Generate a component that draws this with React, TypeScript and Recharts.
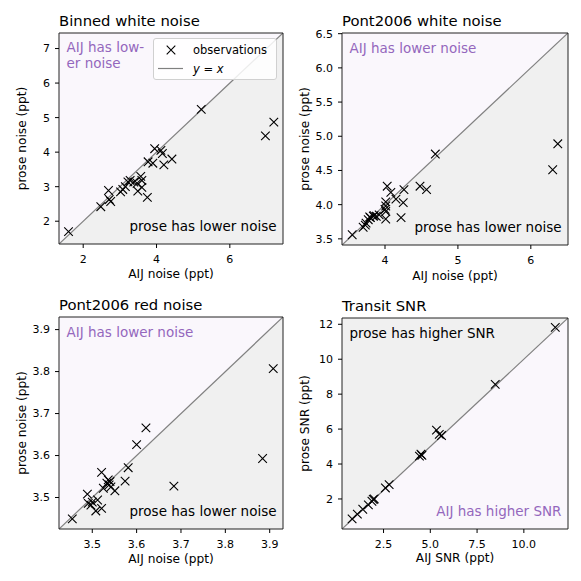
import React from 'react';
import {
  ComposedChart,
  XAxis,
  YAxis,
  CartesianGrid,
  Area,
  Scatter,
  ReferenceArea,
  Legend,
} from 'recharts';

const FONT = '"DejaVu Sans", Verdana, sans-serif';
const PURPLE = '#9467bd';
const GREY_FILL = '#f0f0f0';
const LAVENDER_FILL = '#faf7fc';

// Binned white noise (ppt)
const binnedAij = [1.6, 2.48, 2.69, 2.71, 2.75, 3.02, 3.08, 3.15, 3.22, 3.28, 3.38, 3.49, 3.47, 3.57, 3.6, 3.6, 3.75, 3.77, 3.9, 3.95, 4.12, 4.16, 4.2, 4.42, 5.22, 6.97, 7.2];
const binnedProse = [1.7, 2.42, 2.89, 2.63, 2.57, 2.85, 2.92, 3.0, 3.14, 3.18, 3.13, 2.87, 3.1, 3.3, 3.18, 2.98, 2.69, 3.72, 3.68, 4.1, 4.05, 3.96, 3.63, 3.8, 5.24, 4.47, 4.87];

// Pont2006 white noise (ppt)
const pontWhiteAij = [3.55, 3.7, 3.73, 3.74, 3.77, 3.79, 3.8, 3.84, 3.85, 3.88, 3.92, 4.0, 4.01, 4.01, 4.01, 4.01, 4.03, 4.08, 4.15, 4.22, 4.26, 4.25, 4.48, 4.57, 4.69, 6.3, 6.37];
const pontWhiteProse = [3.56, 3.67, 3.7, 3.73, 3.78, 3.82, 3.81, 3.83, 3.84, 3.83, 3.85, 3.93, 3.79, 3.9, 3.98, 4.04, 4.27, 4.18, 4.08, 3.81, 4.22, 4.03, 4.27, 4.22, 4.74, 4.51, 4.89];

// Pont2006 red noise (ppt)
const pontRedAij = [3.455, 3.489, 3.491, 3.497, 3.5, 3.508, 3.512, 3.521, 3.521, 3.525, 3.533, 3.536, 3.538, 3.542, 3.54, 3.551, 3.574, 3.581, 3.6, 3.621, 3.684, 3.884, 3.908];
const pontRedProse = [3.449, 3.508, 3.486, 3.482, 3.489, 3.468, 3.494, 3.474, 3.56, 3.522, 3.534, 3.542, 3.53, 3.525, 3.538, 3.516, 3.539, 3.571, 3.626, 3.666, 3.527, 3.593, 3.807];

// Transit SNR
const snrAij = [0.82, 1.1, 1.39, 1.69, 1.88, 1.95, 2.0, 2.6, 2.8, 4.42, 4.5, 4.55, 5.33, 5.48, 5.6, 8.47, 11.68];
const snrProse = [0.86, 1.13, 1.41, 1.66, 1.87, 1.97, 2.0, 2.63, 2.82, 4.45, 4.56, 4.5, 5.94, 5.7, 5.63, 8.56, 11.82];

const binnedTicks = [2, 3, 4, 5, 6, 7];
const binnedXTicks = [2, 4, 6];
const pontWhiteXTicks = [4, 5, 6];
const pontWhiteYTicks = [3.5, 4.0, 4.5, 5.0, 5.5, 6.0, 6.5];
const pontRedTicks = [3.5, 3.6, 3.7, 3.8, 3.9];
const snrXTicks = [2.5, 5.0, 7.5, 10.0];
const snrYTicks = [2, 4, 6, 8, 10, 12];

interface Panel {
  title: string;
  xLabel: string;
  yLabel: string;
  lim: [number, number];
  aij: number[];
  prose: number[];
  xTicks: number[];
  yTicks: number[];
  xDec: number;
  yDec: number;
  proseAbove: boolean;
  topText: string[];
  topColor: string;
  bottomText: string;
  bottomColor: string;
  legend?: boolean;
  ox: number;
  oy: number;
  yAxisWidth: number;
  marginTop: number;
  marginRight: number;
  xAxisHeight: number;
  yLabelOffset: number;
  xLabelOffset: number;
}

const panels: Panel[] = [
  {
    title: 'Binned white noise',
    xLabel: 'AIJ noise (ppt)',
    yLabel: 'prose noise (ppt)',
    lim: [1.34, 7.45],
    aij: binnedAij,
    prose: binnedProse,
    xTicks: binnedXTicks,
    yTicks: binnedTicks,
    xDec: 0,
    yDec: 0,
    proseAbove: false,
    topText: ['AIJ has low-', 'er noise'],
    topColor: PURPLE,
    bottomText: 'prose has lower noise',
    bottomColor: '#000',
    legend: true,
    ox: 0, oy: 0, yAxisWidth: 59, marginTop: 33, marginRight: 7, xAxisHeight: 46,
    yLabelOffset: 22, xLabelOffset: 12,
  },
  {
    title: 'Pont2006 white noise',
    xLabel: 'AIJ noise (ppt)',
    yLabel: 'prose noise (ppt)',
    lim: [3.41, 6.51],
    aij: pontWhiteAij,
    prose: pontWhiteProse,
    xTicks: pontWhiteXTicks,
    yTicks: pontWhiteYTicks,
    xDec: 0,
    yDec: 1,
    proseAbove: false,
    topText: ['AIJ has lower noise'],
    topColor: PURPLE,
    bottomText: 'prose has lower noise',
    bottomColor: '#000',
    ox: 290, oy: 0, yAxisWidth: 52, marginTop: 33, marginRight: 12, xAxisHeight: 45,
    yLabelOffset: 15, xLabelOffset: 10,
  },
  {
    title: 'Pont2006 red noise',
    xLabel: 'AIJ noise (ppt)',
    yLabel: 'prose noise (ppt)',
    lim: [3.425, 3.93],
    aij: pontRedAij,
    prose: pontRedProse,
    xTicks: pontRedTicks,
    yTicks: pontRedTicks,
    xDec: 1,
    yDec: 1,
    proseAbove: false,
    topText: ['AIJ has lower noise'],
    topColor: PURPLE,
    bottomText: 'prose has lower noise',
    bottomColor: '#000',
    ox: 0, oy: 290, yAxisWidth: 59, marginTop: 27, marginRight: 7, xAxisHeight: 51,
    yLabelOffset: 22, xLabelOffset: 17,
  },
  {
    title: 'Transit SNR',
    xLabel: 'AIJ SNR (ppt)',
    yLabel: 'prose SNR (ppt)',
    lim: [0.28, 12.36],
    aij: snrAij,
    prose: snrProse,
    xTicks: snrXTicks,
    yTicks: snrYTicks,
    xDec: 1,
    yDec: 0,
    proseAbove: true,
    topText: ['prose has higher SNR'],
    topColor: '#000',
    bottomText: 'AIJ has higher SNR',
    bottomColor: PURPLE,
    ox: 290, oy: 290, yAxisWidth: 52, marginTop: 28, marginRight: 12, xAxisHeight: 51,
    yLabelOffset: 15, xLabelOffset: 18,
  },
];

const XMark = (props: any) => {
  const { cx, cy } = props;
  if (cx == null || cy == null) return null;
  const r = 4.3;
  return (
    <path
      d={`M${cx - r},${cy - r}L${cx + r},${cy + r}M${cx - r},${cy + r}L${cx + r},${cy - r}`}
      stroke="#000"
      strokeWidth={1.1}
      fill="none"
    />
  );
};

const LegendBox = () => (
  <div
    style={{
      width: 122,
      height: 40,
      border: '1px solid #d0d0d0',
      borderRadius: 3,
      background: 'rgba(255,255,255,0.85)',
      position: 'relative',
      fontFamily: FONT,
      fontSize: 11.5,
      color: '#000',
      lineHeight: '14px',
    }}
  >
    <svg width={40} height={40} style={{ position: 'absolute', left: 0, top: 0 }}>
      <path d="M12.7,6.7L21.3,15.3M12.7,15.3L21.3,6.7" stroke="#000" strokeWidth={1.1} />
      <line x1={4} y1={29.5} x2={29} y2={29.5} stroke="#808080" strokeWidth={1.2} />
    </svg>
    <span style={{ position: 'absolute', left: 39, top: 4 }}>observations</span>
    <span style={{ position: 'absolute', left: 39, top: 22.5 }}>
      <i>y</i> = <i>x</i>
    </span>
  </div>
);

const fmt = (dec: number) => (v: number) => v.toFixed(dec);

const ChartPanel = ({ p }: { p: Panel }) => {
  const [lo, hi] = p.lim;
  const diag = [{ x: lo, y: lo }, { x: hi, y: hi }];
  const points = p.aij.map((a, i) => ({ x: a, y: p.prose[i] }));
  const plotLeft = p.yAxisWidth;
  const plotTop = p.marginTop;
  const plotRight = 290 - p.marginRight;
  const plotBottom = 290 - p.xAxisHeight;
  const tick = { fill: '#000', fontSize: 11, fontFamily: FONT };
  const lineGap = 16;

  return (
    <div style={{ position: 'absolute', left: p.ox, top: p.oy, width: 290, height: 290 }}>
      <ComposedChart
        width={290}
        height={290}
        data={diag}
        margin={{ top: p.marginTop, right: p.marginRight, bottom: 0, left: 0 }}
        style={{ fontFamily: FONT }}
      >
        <CartesianGrid horizontal={false} vertical={false} fill={LAVENDER_FILL} />
        <XAxis
          dataKey="x"
          type="number"
          domain={p.lim}
          allowDataOverflow
          ticks={p.xTicks}
          tickFormatter={fmt(p.xDec)}
          height={p.xAxisHeight}
          axisLine={false}
          tickSize={4}
          tickMargin={7}
          tickLine={{ stroke: '#000' }}
          tick={tick}
          label={{
            value: p.xLabel,
            position: 'insideBottom',
            offset: p.xLabelOffset,
            style: { fill: '#000', fontSize: 12.2, fontFamily: FONT },
          }}
        />
        <YAxis
          dataKey="y"
          type="number"
          domain={p.lim}
          allowDataOverflow
          ticks={p.yTicks}
          tickFormatter={fmt(p.yDec)}
          width={p.yAxisWidth}
          axisLine={false}
          tickSize={4}
          tickMargin={5}
          tickLine={{ stroke: '#000' }}
          tick={tick}
          label={{
            value: p.yLabel,
            angle: -90,
            position: 'insideLeft',
            offset: p.yLabelOffset,
            style: { textAnchor: 'middle', fill: '#000', fontSize: 12.2, fontFamily: FONT },
          }}
        />
        <Area
          type="linear"
          dataKey="y"
          baseValue={p.proseAbove ? hi : lo}
          fill={GREY_FILL}
          fillOpacity={1}
          stroke="#808080"
          strokeWidth={1.2}
          dot={false}
          activeDot={false}
          isAnimationActive={false}
        />
        <Scatter data={points} dataKey="y" shape={XMark} isAnimationActive={false} />
        <ReferenceArea x1={lo} x2={hi} y1={lo} y2={hi} fill="none" stroke="#222" strokeWidth={1} />
        {p.legend && (
          <Legend
            layout="vertical"
            align="center"
            verticalAlign="middle"
            content={() => <LegendBox />}
            wrapperStyle={{ left: 153, top: 38, width: 124, height: 42 }}
          />
        )}
      </ComposedChart>
      <svg
        width={290}
        height={290}
        style={{ position: 'absolute', left: 0, top: 0, pointerEvents: 'none', fontFamily: FONT }}
      >
        <text x={plotLeft} y={plotTop - 7.3} fontSize={14.8} fill="#000">
          {p.title}
        </text>
        {p.topText.map((t, i) => (
          <text
            key={t}
            x={plotLeft + 7.5}
            y={plotTop + (p.topText.length > 1 ? 18.7 : 19.5) + i * lineGap}
            fontSize={13.5}
            fill={p.topColor}
          >
            {t}
          </text>
        ))}
        <text x={plotRight - 6.5} y={plotBottom - 13.5} fontSize={13.5} fill={p.bottomColor} textAnchor="end">
          {p.bottomText}
        </text>
      </svg>
    </div>
  );
};

export default function App() {
  return (
    <div style={{ position: 'absolute', left: 0, top: 0, width: 581, height: 581, background: '#fff' }}>
      {panels.map((p) => (
        <ChartPanel key={p.title} p={p} />
      ))}
    </div>
  );
}
